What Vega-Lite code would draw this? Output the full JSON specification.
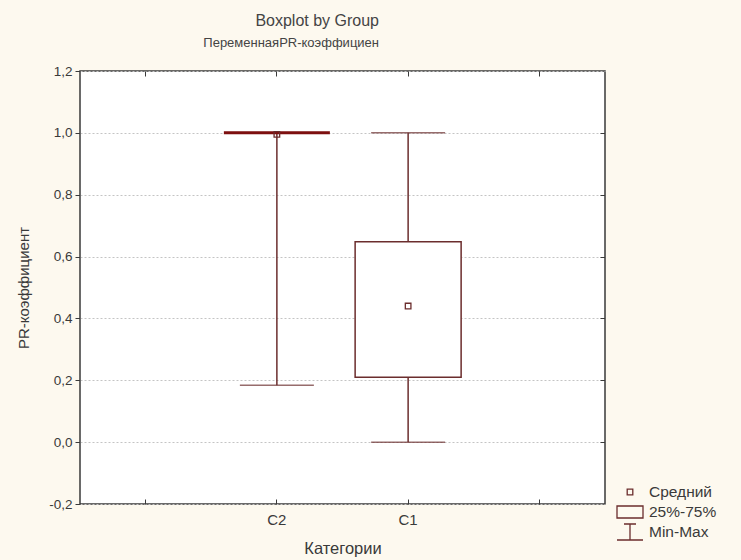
{
  "$schema": "https://vega.github.io/schema/vega-lite/v6.json",
  "width": 525,
  "height": 433,
  "autosize": "none",
  "padding": {"left": 80, "top": 71, "right": 136, "bottom": 56},
  "background": "#fdf9ef",
  "config": {
    "font": "Liberation Sans",
    "view": {"stroke": "#3a3a3a", "strokeWidth": 1.5, "fill": "white"},
    "axis": {"labelFont": "Liberation Sans", "titleFont": "Liberation Sans", "labelFontSize": 13.5, "titleFontSize": 15, "titleFontWeight": "normal", "labelColor": "#3a3a3a", "titleColor": "#3a3a3a", "tickColor": "#3a3a3a", "domain": false}
  },
  "title": {
    "text": "Boxplot by Group",
    "subtitle": "ПеременнаяPR-коэффициен",
    "anchor": "end",
    "frame": "group",
    "dx": -226,
    "offset": 14,
    "fontSize": 16,
    "subtitleFontSize": 13,
    "fontWeight": "normal",
    "font": "Liberation Sans",
    "subtitleFont": "Liberation Sans",
    "color": "#444444",
    "subtitleColor": "#444444",
    "subtitlePadding": 8
  },
  "data": {
    "values": [
      {"cat": "C2", "min": 0.184, "q1": 1.0, "q3": 1.0, "max": 1.0, "mean": 0.995},
      {"cat": "C1", "min": 0.0, "q1": 0.21, "q3": 0.648, "max": 1.0, "mean": 0.44}
    ]
  },
  "encoding": {
    "x": {
      "field": "cat",
      "type": "nominal",
      "scale": {"domain": ["_a", "C2", "C1", "_b"], "type": "band", "paddingInner": 0, "paddingOuter": 0},
      "axis": null
    }
  },
  "layer": [
    {
      "mark": {"type": "rule", "color": "#6b2d2d", "strokeWidth": 1.5},
      "encoding": {
        "x": {
          "field": "cat",
          "type": "nominal",
          "axis": {
            "orient": "bottom",
            "title": "Категории",
            "labelExpr": "datum.value == 'C2' || datum.value == 'C1' ? datum.value : ''",
            "labelAngle": 0,
            "labelFontSize": 15,
            "titleFontSize": 16.5,
            "tickSize": -5,
            "labelPadding": 13,
            "titlePadding": 13,
            "grid": false
          }
        },
        "y": {
          "field": "min",
          "type": "quantitative",
          "scale": {"domain": [-0.2, 1.2], "nice": false, "zero": false},
          "axis": {
            "orient": "left",
            "title": "PR-коэффициент",
            "values": [-0.2, 0, 0.2, 0.4, 0.6, 0.8, 1.0, 1.2],
            "labelExpr": "replace(replace(format(datum.value, '.1f'), '.', ','), '\u2212', '-')",
            "tickSize": 5,
            "labelPadding": 3,
            "titlePadding": 17,
            "grid": true,
            "gridDash": [2, 2],
            "gridColor": "#c4c4c4",
            "gridWidth": 1
          }
        },
        "y2": {"field": "max"}
      }
    },
    {
      "mark": {"type": "tick", "color": "#6b2d2d", "thickness": 1.5, "size": 74},
      "encoding": {"y": {"field": "min", "type": "quantitative", "axis": null}}
    },
    {
      "mark": {"type": "tick", "color": "#6b2d2d", "thickness": 1.5, "size": 74},
      "encoding": {"y": {"field": "max", "type": "quantitative", "axis": null}}
    },
    {
      "mark": {"type": "bar", "size": 106, "fill": "white"},
      "encoding": {
        "y": {"field": "q1", "type": "quantitative", "axis": null},
        "y2": {"field": "q3"},
        "stroke": {"condition": {"test": "datum.q1 == datum.q3", "value": "#7d0f0f"}, "value": "#6b2d2d"},
        "strokeWidth": {"condition": {"test": "datum.q1 == datum.q3", "value": 3}, "value": 1.5}
      }
    },
    {
      "mark": {"type": "point", "filled": false, "color": "#6b2d2d", "strokeWidth": 1.3, "size": 400, "opacity": 1},
      "encoding": {
        "y": {"field": "mean", "type": "quantitative", "axis": null},
        "shape": {
          "datum": "Средний",
          "type": "nominal",
          "scale": {
            "domain": ["Средний", "25%-75%", "Min-Max"],
            "range": [
              "M-0.28,-0.28H0.28V0.28H-0.28Z",
              "M-1.3,-0.6H1.3V0.6H-1.3Z",
              "M-0.6,-0.8H0.6M0,-0.8V0.8M-1.3,0.8H1.3"
            ]
          },
          "legend": {
            "title": null,
            "orient": "none",
            "legendX": 539,
            "legendY": 410,
            "labelFont": "Liberation Sans",
            "labelFontSize": 15.5,
            "labelColor": "#3a3a3a",
            "labelOffset": 8,
            "rowPadding": 0,
            "symbolStrokeColor": "#6b2d2d",
            "symbolStrokeWidth": 1.3,
            "symbolSize": 400
          }
        }
      }
    },
    {
      "mark": {"type": "rule", "opacity": 0},
      "encoding": {
        "y": {
          "field": "max",
          "type": "quantitative",
          "axis": {"orient": "right", "title": null, "labels": false, "values": [0, 0.2, 0.4, 0.6, 0.8, 1.0], "tickSize": -5, "grid": false}
        },
        "x": {
          "field": "cat",
          "type": "nominal",
          "axis": {"orient": "top", "title": null, "labels": false, "tickSize": -5, "grid": false}
        }
      }
    }
  ],
  "resolve": {"axis": {"y": "independent", "x": "independent"}}
}
